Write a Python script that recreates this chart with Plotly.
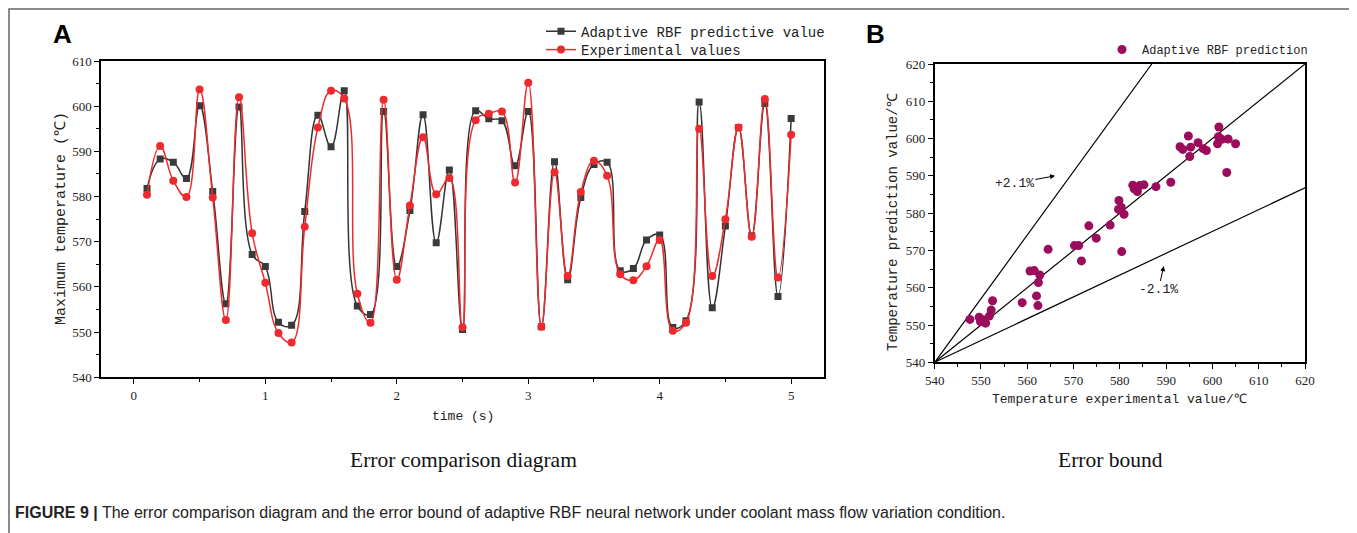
import plotly.graph_objects as go

# ---------------- data: panel A ----------------
time_s = [0.1, 0.2, 0.3, 0.4, 0.5, 0.6, 0.7, 0.8, 0.9, 1.0,
          1.1, 1.2, 1.3, 1.4, 1.5, 1.6, 1.7, 1.8, 1.9, 2.0,
          2.1, 2.2, 2.3, 2.4, 2.5, 2.6, 2.7, 2.8, 2.9, 3.0,
          3.1, 3.2, 3.3, 3.4, 3.5, 3.6, 3.7, 3.8, 3.9, 4.0,
          4.1, 4.2, 4.3, 4.4, 4.5, 4.6, 4.7, 4.8, 4.9, 5.0]

rbf_pred = [581.8, 588.3, 587.6, 584.0, 600.1, 581.1, 556.3, 599.8, 567.2, 564.5,
            552.2, 551.5, 576.7, 598.0, 591.0, 603.4, 555.8, 553.9, 598.8, 564.5,
            576.9, 598.1, 569.8, 585.9, 550.6, 599.0, 597.2, 596.8, 586.8, 598.8,
            551.2, 587.7, 561.6, 579.8, 587.1, 587.6, 563.6, 564.1, 570.4, 571.5,
            551.0, 552.5, 600.9, 555.4, 573.5, 595.3, 571.3, 600.6, 557.9, 597.3]

experimental = [580.4, 591.2, 583.5, 579.9, 603.7, 579.8, 552.7, 602.0, 571.9, 560.9,
                549.8, 547.7, 573.3, 595.3, 603.4, 601.7, 558.5, 552.1, 601.4, 561.6,
                578.0, 593.1, 580.5, 584.1, 551.1, 596.9, 598.3, 598.8, 583.1, 605.2,
                551.2, 585.4, 562.4, 581.0, 587.9, 584.6, 562.8, 561.5, 564.6, 570.4,
                550.3, 552.1, 595.0, 562.4, 575.0, 595.3, 571.1, 601.6, 562.1, 593.7]

# ---------------- data: panel B ----------------
exp_value = [547.6, 549.6, 549.9, 550.4, 551.0, 551.8, 552.2, 552.5, 558.9, 560.6,
             561.5, 562.0, 562.3, 562.4, 562.7, 564.5, 570.2, 571.1, 571.7, 573.3,
             574.9, 577.9, 579.8, 579.7, 580.3, 580.4, 580.9, 582.8, 583.1, 583.8,
             584.3, 585.2, 587.8, 591.0, 593.0, 593.6, 594.8, 595.1, 595.3, 596.9,
             598.0, 598.7, 601.4, 601.3, 601.1, 602.0, 603.4, 605.0, 603.1]
pred_value = [551.5, 552.1, 550.9, 551.4, 550.5, 552.4, 554.0, 556.5, 556.0, 564.5,
              564.6, 557.8, 555.2, 561.4, 563.4, 570.3, 571.3, 571.3, 567.2, 576.6,
              573.3, 576.8, 583.4, 581.0, 581.6, 569.7, 579.7, 587.5, 586.5, 585.8,
              587.4, 587.6, 587.1, 588.3, 597.8, 597.1, 600.7, 595.2, 597.7, 598.9,
              597.3, 596.8, 603.1, 600.5, 598.6, 599.8, 599.9, 598.6, 590.9]

ideal_x = [540, 620]
ideal_y = [540, 620]
upper_x = [540, 586.9]
upper_y = [540, 620]
lower_x = [540, 620]
lower_y = [540, 586.8]

# page body has an 8px margin: figure is sized to fit the window exactly
OFF = 8
FW, FH = 1357 - OFF, 533 - OFF
def px(x):
    return (x - OFF) / FW
def py(y):
    return 1 - (y - OFF) / FH

MONO = "Liberation Mono"
SERIF = "Liberation Serif"
SANS = "Liberation Sans"

fig = go.Figure()

fig.add_trace(go.Scatter(
    x=time_s, y=rbf_pred, mode="lines+markers",
    name="Adaptive RBF predictive value",
    line=dict(color="#333333", width=1.5, shape="spline", smoothing=1.2),
    marker=dict(symbol="square", size=7, color="#3a3a3a"),
    xaxis="x", yaxis="y", legend="legend"))
fig.add_trace(go.Scatter(
    x=time_s, y=experimental, mode="lines+markers",
    name="Experimental values",
    line=dict(color="#ee2a2f", width=1.5, shape="spline", smoothing=1.2),
    marker=dict(symbol="circle", size=8, color="#ee2a2f"),
    xaxis="x", yaxis="y", legend="legend3"))

for lx, ly in [(ideal_x, ideal_y), (upper_x, upper_y), (lower_x, lower_y)]:
    fig.add_trace(go.Scatter(x=lx, y=ly, mode="lines", showlegend=False,
                             line=dict(color="black", width=1.2),
                             xaxis="x2", yaxis="y2", hoverinfo="skip"))

fig.add_trace(go.Scatter(
    x=exp_value, y=pred_value, mode="markers", name="Adaptive RBF prediction",
    marker=dict(symbol="circle", size=9, color="#9c0c5c"),
    xaxis="x2", yaxis="y2", legend="legend2"))

def axis_common():
    return dict(showline=True, linecolor="black", linewidth=1.5, mirror=True,
                ticks="outside", ticklen=5, tickwidth=1.2, tickcolor="black",
                showgrid=False, zeroline=False, automargin=False,
                tickfont=dict(family=SERIF, size=13, color="#222"))

legfont_a = dict(family=MONO, size=14, color="#222")
fig.update_layout(
    width=FW, height=FH,
    margin=dict(l=0, r=0, t=0, b=0, autoexpand=False),
    font=dict(family=SERIF, size=13, color="#222"),
    paper_bgcolor="white", plot_bgcolor="white",
    xaxis=dict(domain=[px(101), px(824)], anchor="y", range=[-0.25, 5.25],
               tick0=0, dtick=1,
               minor=dict(ticks="outside", dtick=0.5, ticklen=3, tickcolor="black"),
               **axis_common()),
    yaxis=dict(domain=[py(377.3), py(61)], anchor="x", range=[540, 610],
               tick0=540, dtick=10,
               minor=dict(ticks="outside", dtick=5, ticklen=3, tickcolor="black"),
               **axis_common()),
    xaxis2=dict(domain=[px(934.7), px(1305)], anchor="y2", range=[540, 620],
                tick0=540, dtick=10,
                minor=dict(ticks="outside", dtick=5, ticklen=3, tickcolor="black"),
                **axis_common()),
    yaxis2=dict(domain=[py(362.3), py(64)], anchor="x2", range=[540, 620],
                tick0=540, dtick=10,
                minor=dict(ticks="outside", dtick=5, ticklen=3, tickcolor="black"),
                **axis_common()),
    legend=dict(x=px(541), y=py(15.7), xanchor="left", yanchor="top",
                bgcolor="rgba(0,0,0,0)", itemwidth=30, font=legfont_a),
    legend3=dict(x=px(541), y=py(34), xanchor="left", yanchor="top",
                 bgcolor="rgba(0,0,0,0)", itemwidth=30, font=legfont_a),
    legend2=dict(x=px(1102), y=py(35), xanchor="left", yanchor="top",
                 bgcolor="rgba(0,0,0,0)", itemwidth=30,
                 font=dict(family=MONO, size=12, color="#222")),
    showlegend=True,
)

ann = []
def text(x, y, s, size, family, rot=0, color="#222", xanchor="center"):
    ann.append(dict(x=px(x), y=py(y), xref="paper", yref="paper", text=s,
                    showarrow=False, textangle=rot, xanchor=xanchor, yanchor="middle",
                    font=dict(size=size, family=family, color=color)))

text(62.5, 34.5, "<b>A</b>", 26, SANS, color="black")
text(875, 33.5, "<b>B</b>", 26, SANS, color="black")
text(463, 416, "time (s)", 13, MONO)
text(61, 219, "Maximum temperature (℃)", 15, MONO, rot=-90)
text(1119, 399, "Temperature experimental value/℃", 13, MONO)
text(893, 222, "Temperature prediction value/℃", 14, MONO, rot=-90)
text(463, 460, "Error comparison diagram", 21.5, SERIF, color="#111")
text(1110, 460, "Error bound", 21.5, SERIF, color="#111")
text(13, 512, "<b>FIGURE 9 |</b> The error comparison diagram and the error bound of adaptive RBF neural network under coolant mass flow variation condition.",
     16, SANS, color="#222", xanchor="left")

ann.append(dict(x=566.0, y=590.0, xref="x2", yref="y2", ax=557.2, ay=588.0,
                axref="x2", ayref="y2", text="+2.1%", showarrow=True,
                arrowhead=2, arrowsize=1, arrowwidth=1, arrowcolor="black",
                font=dict(family=MONO, size=13, color="#222")))
ann.append(dict(x=589.5, y=565.8, xref="x2", yref="y2", ax=588.3, ay=559.4,
                axref="x2", ayref="y2", text="-2.1%", showarrow=True,
                arrowhead=2, arrowsize=1, arrowwidth=1, arrowcolor="black",
                font=dict(family=MONO, size=13, color="#222")))
fig.update_layout(annotations=ann)

fig.add_shape(type="rect", xref="paper", yref="paper",
              x0=px(9), x1=px(1353), y0=py(560), y1=py(9),
              line=dict(color="#666", width=1.5), fillcolor="rgba(0,0,0,0)")

fig.write_html("out.html")
